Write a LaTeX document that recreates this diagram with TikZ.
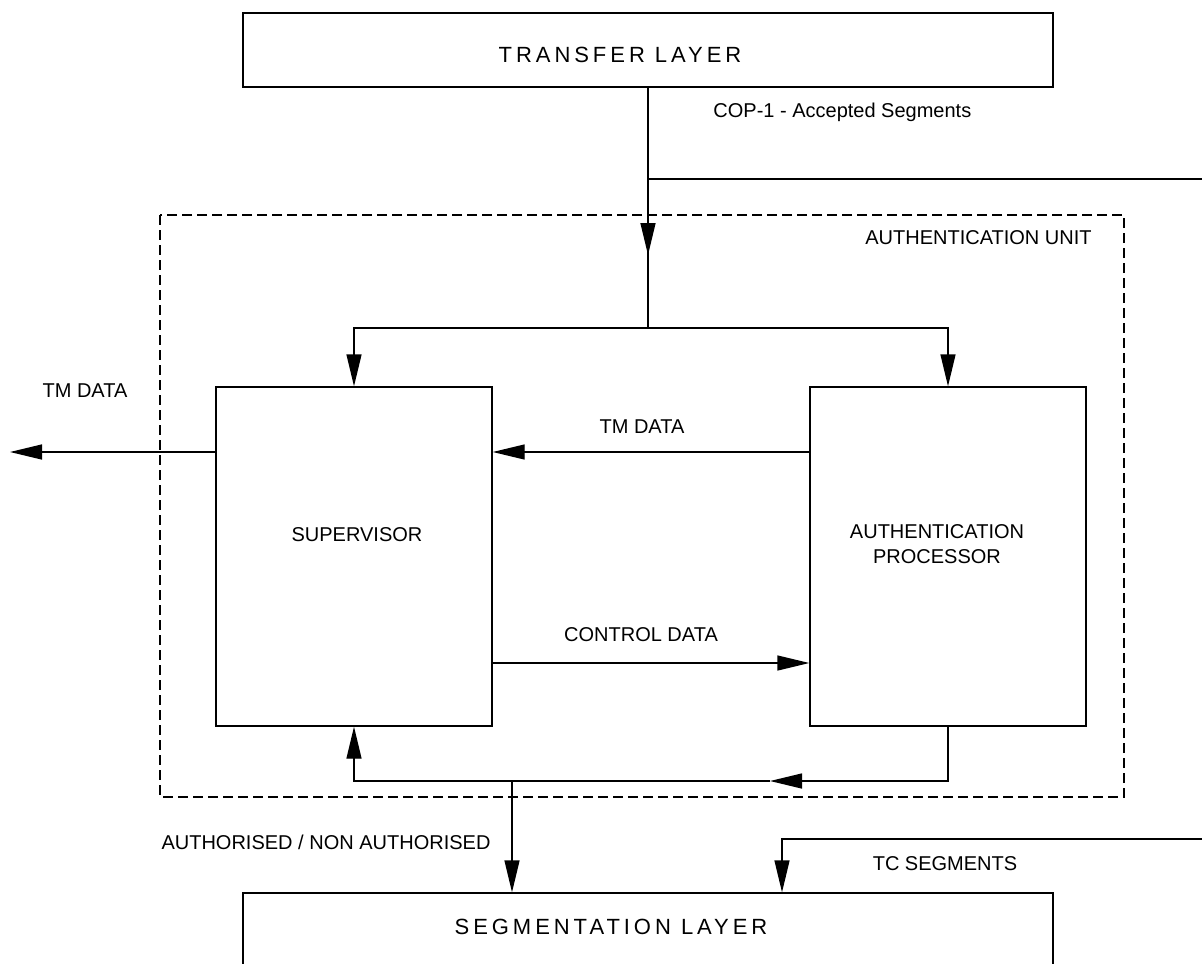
\documentclass[tikz,border=0pt]{standalone}
\usepackage{fontspec}
\setmainfont{Liberation Sans}
\newfontfamily\layerfont[LetterSpace=18]{Liberation Sans}
\usetikzlibrary{arrows.meta}

\tikzset{
  blk/.style={draw, line width=.7pt, inner sep=0pt},
  lbl/.style={inner sep=0pt, font=\fontsize{10}{12.5}\selectfont},
  title/.style={inner sep=0pt, font=\layerfont\fontsize{11}{13}\selectfont},
  wire/.style={line width=.7pt},
  arr/.style={line width=.7pt, -{Triangle[length=16pt,width=7.5pt]}},
  unit/.style={line width=1.1pt, dash pattern=on 5pt off 2.5pt}
}

\begin{document}
\begin{tikzpicture}[x=.5pt, y=-.5pt]
  \clip (0,0) rectangle (1202,963);

  \node[blk, minimum width=405pt, minimum height=37pt] (transfer) at (648,50) {};
  \node[blk, minimum width=138pt, minimum height=169.5pt] (sup) at (354,556.5) {};
  \node[blk, minimum width=138pt, minimum height=169.5pt] (authproc) at (948,556.5) {};
  \node[blk, minimum width=405pt, minimum height=73.5pt] (segm) at (648,966.5) {};

  \node[title] (transfertitle) at (620,55) {TRANSFER LAYER};
  \node[title] (segmtitle) at (611,927) {SEGMENTATION LAYER};
  \node[lbl] (suplbl) at (357,535) {SUPERVISOR};
  \node[lbl, align=center] (aplbl) at (937,544) {AUTHENTICATION\\PROCESSOR};

  \node[lbl, anchor=west] (coplbl) at (713,112) {COP-1 - Accepted Segments};
  \node[lbl, anchor=east] (unitlbl) at (1092,238) {AUTHENTICATION UNIT};
  \node[lbl] (tmoutlbl) at (85,391) {TM DATA};
  \node[lbl] (tmlbl) at (642,427) {TM DATA};
  \node[lbl] (ctllbl) at (641,635) {CONTROL DATA};
  \node[lbl] (authlbl) at (326,842) {AUTHORISED / NON AUTHORISED};
  \node[lbl] (tclbl) at (945,864) {TC SEGMENTS};

  \coordinate (inA) at (648,255);
  \coordinate (split) at (648,328);
  \coordinate (cop) at (648,179);
  \coordinate (copend) at (1202,179);
  \coordinate (tmrow) at (0,452);
  \coordinate (tmout) at (10,452);
  \coordinate (ctlrow) at (0,663);
  \coordinate (loopmid) at (770,781);
  \coordinate (authout) at (512,781);
  \coordinate (tcin) at (1202,839);
  \coordinate (tcdrop) at (782,0);

  \draw[wire] (transfer.south) -- (split);
  \draw[arr] (transfer.south) -- (inA);
  \draw[wire] (cop) -- (copend);
  \draw[arr] (split) -| (sup.north);
  \draw[arr] (split) -| (authproc.north);
  \draw[arr] (authproc.west |- tmrow) -- (sup.east |- tmrow);
  \draw[arr] (sup.west |- tmrow) -- (tmout);
  \draw[arr] (sup.east |- ctlrow) -- (authproc.west |- ctlrow);
  \draw[arr] (authproc.south) |- (loopmid);
  \draw[arr] (loopmid) -| (sup.south);
  \draw[arr] (authout) -- (segm.north -| authout);
  \draw[arr] (tcin) -| (segm.north -| tcdrop);

  \draw[unit] (160,215) rectangle (1124,797);
\end{tikzpicture}
\end{document}
